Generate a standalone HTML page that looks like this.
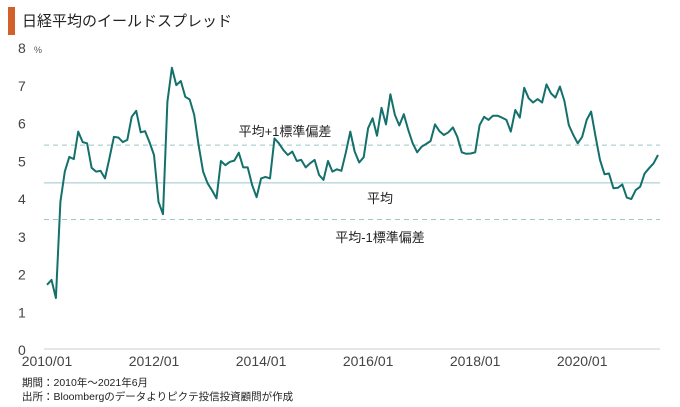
<!DOCTYPE html>
<html><head><meta charset="utf-8"><style>
body{margin:0;background:#fff;}
svg text{font-family:"Liberation Sans","Noto Sans CJK JP",sans-serif;}
</style></head><body>
<svg width="680" height="402" viewBox="0 0 680 402">
<rect x="8" y="7" width="7" height="28" fill="#d2602a"/>
<text x="22" y="26" font-size="15" fill="#222">日経平均のイールドスプレッド</text>
<g id="yaxis"></g>
<g id="xaxis"></g>
<g id="refs"></g>
<g id="series"></g>
<text x="34" y="53" font-size="9" fill="#555">%</text>
<text x="22" y="386" font-size="10.5" fill="#222">期間：2010年～2021年6月</text>
<text x="22" y="400" font-size="10.5" fill="#222">出所：Bloombergのデータよりピクテ投信投資顧問が作成</text>
</svg>
<script>
const months=[0,1,2,3,4,5,6,7,8,9,10,11,12,13,14,15,16,17,18,19,20,21,22,23,24,25,26,27,28,29,30,31,32,33,34,35,36,37,38,39,40,41,42,43,44,45,46,47,48,49,50,51,52,53,54,55,56,57,58,59,60,61,62,63,64,65,66,67,68,69,70,71,72,73,74,75,76,77,78,79,80,81,82,83,84,85,86,87,88,89,90,91,92,93,94,95,96,97,98,99,100,101,102,103,104,105,106,107,108,109,110,111,112,113,114,115,116,117,118,119,120,121,122,123,124,125,126,127,128,129,130,131,132,133,134,135,136,137];
const spread=[1.70,1.83,1.35,3.9,4.7,5.09,5.03,5.76,5.48,5.45,4.8,4.7,4.72,4.52,5.05,5.62,5.6,5.48,5.54,6.15,6.31,5.74,5.77,5.47,5.14,3.9,3.57,6.55,7.45,6.99,7.1,6.68,6.61,6.2,5.4,4.7,4.39,4.2,3.99,4.98,4.87,4.96,4.99,5.2,4.81,4.81,4.34,4.02,4.52,4.56,4.52,5.58,5.45,5.27,5.14,5.23,4.98,5.01,4.81,4.92,5.01,4.61,4.48,4.98,4.7,4.76,4.72,5.2,5.76,5.23,4.94,5.08,5.85,6.11,5.65,6.39,5.95,6.75,6.2,5.92,6.22,5.8,5.45,5.21,5.36,5.43,5.51,5.95,5.77,5.67,5.74,5.87,5.62,5.21,5.17,5.18,5.21,5.93,6.15,6.07,6.18,6.18,6.13,6.07,5.76,6.33,6.13,6.92,6.64,6.53,6.62,6.53,7.01,6.77,6.66,6.95,6.57,5.93,5.67,5.45,5.62,6.07,6.29,5.62,5.01,4.63,4.65,4.26,4.27,4.36,4.01,3.97,4.21,4.3,4.65,4.79,4.92,5.14];
const yTicks=[0,1,2,3,4,5,6,7,8];
const xTickLabels=["2010/01","2012/01","2014/01","2016/01","2018/01","2020/01"];
const xTickMonths=[0,24,48,72,96,120];
const refValues=[5.4,4.4,3.43];
const refLabels=["平均+1標準偏差","平均","平均-1標準偏差"];
const NS="http://www.w3.org/2000/svg";
function X(m){return 47+m*4.46;}
function Y(v){return 349-v*37.75;}
function mk(tag,attrs,parent,text){const e=document.createElementNS(NS,tag);for(const k in attrs)e.setAttribute(k,attrs[k]);if(text!==undefined)e.textContent=text;parent.appendChild(e);return e;}
const ya=document.getElementById('yaxis'),xa=document.getElementById('xaxis'),rf=document.getElementById('refs'),sr=document.getElementById('series');
yTicks.forEach(v=>{
  const t=mk('text',{x:18,y:Y(v)+6,'font-size':14,fill:'#444'},ya,String(v));
  
  
});
const base=mk('line',{x1:44,x2:660,y1:Y(0),y2:Y(0),stroke:'#ddd','stroke-width':1.5},xa);


xTickLabels.forEach((l,i)=>{
  const t=mk('text',{x:X(xTickMonths[i]),y:366,'font-size':14,fill:'#444','text-anchor':'middle'},xa,l);
  
  
});
const labelPos=[[285,136],[380,203],[380,242]];
refValues.forEach((v,i)=>{
  const ln=mk('line',{x1:44,x2:660,y1:Y(v),y2:Y(v),stroke:'#9cc7c7','stroke-width':1,'stroke-dasharray':i===1?'none':'5,4'},rf);
  
  
  const t=mk('text',{x:labelPos[i][0],y:labelPos[i][1],'font-size':13,fill:'#222','text-anchor':'middle'},rf,refLabels[i]);
  
  
});
const d=months.map((m,i)=>(i?'L':'M')+X(m).toFixed(1)+','+Y(spread[i]).toFixed(1)).join('');
const p=mk('path',{d:d,fill:'none',stroke:'#14706b','stroke-width':2,'stroke-linejoin':'round'},sr);


</script>
</body></html>
